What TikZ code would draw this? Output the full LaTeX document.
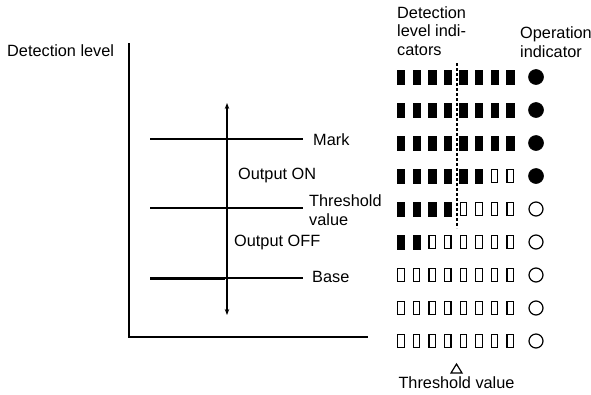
\documentclass[tikz,border=0pt]{standalone}
\usepackage{fontspec}
\setmainfont{Liberation Sans}
\usetikzlibrary{positioning, arrows.meta}

\begin{document}
\begin{tikzpicture}[x=1pt,y=-1pt,
		every node/.style={inner sep=0pt, font=\fontsize{16.3}{18.5}\selectfont},
		level/.style={line width=2.2pt},
		ledon/.style={draw=black, fill=black, line width=0.6pt, minimum width=7.5pt, minimum height=14pt},
		ledoff/.style={draw=black, line width=1.2pt, minimum width=6.5pt, minimum height=13pt},
		opon/.style={circle, draw=black, fill=black, line width=0.6pt, minimum size=15pt},
		opoff/.style={circle, draw=black, line width=1.2pt, minimum size=14pt}]
		\useasboundingbox (0,0) rectangle (591,394);
		
		% axes
		\coordinate (origin) at (129,337);
		\coordinate (y-top) at (129,43);
		\coordinate (x-end) at (368,337);
		\draw[line width=1.7pt] (y-top) -- (origin) -- (x-end);
		\node (y-label) [anchor=west] at (7,51) {Detection level};
		
		% levels
		\coordinate (mark-l) at (150,139);  \coordinate (mark-r) at (303,139);
		\coordinate (thr-l) at (150,208);   \coordinate (thr-r) at (303,208);
		\coordinate (base-l) at (150,278);  \coordinate (base-r) at (303,278);
		\draw[level] (mark-l) -- (mark-r);
		\draw[level] (thr-l) -- (thr-r);
		\draw[level] (base-l) -- (base-r);
		\draw[line width=3pt] (base-l) -- +(75,0);
		\node (mark) [anchor=west] at (313,140) {Mark};
		\node (thr) [anchor=west, align=left] at (309,210) {Threshold\\value};
		\node (base) [anchor=west] at (312,277) {Base};
		
		\coordinate (arr-top) at (227,103);
		\coordinate (arr-bot) at (227,315);
		\draw[line width=1.3pt, {Stealth[length=6pt,width=4.5pt]}-{Stealth[length=6pt,width=4.5pt]}] (arr-top) -- (arr-bot);
		\node (on) [anchor=west] at (238,175) {Output ON};
		\node (off) [anchor=west] at (234,242) {Output OFF};
		
		% indicators
		\node (leds) [anchor=west, align=left] at (397,31) {Detection\\level indi-\\cators};
		\node (ops) [anchor=west, align=left] at (520,42) {Operation\\indicator};
		\foreach \n [count=\r] in {8,8,8,6,4,2,0,0,0} {
			\foreach \c in {1,...,8} {
				\ifnum\c>\n \def\ledstyle{ledoff}\else\def\ledstyle{ledon}\fi
				\node[\ledstyle] (led-\r-\c) at ({401+15.6*(\c-1)}, {77+33*(\r-1)}) {};
			}
			\ifnum\r>4 \def\opstyle{opoff}\else\def\opstyle{opon}\fi
			\node[\opstyle] (op-\r) at (536, {77+33*(\r-1)}) {};
		}
		\draw[line width=1.2pt, dash pattern=on 3pt off 2pt] (457,63) -- (457,228);
		
		\coordinate (tri) at (456.5,364);
		\draw[line width=1.2pt] (tri) -- +(5.5,9) -- +(-5.5,9) -- cycle;
		\node (thr-mark) at (456.5,383) {Threshold value};
		
\end{tikzpicture}
\end{document}
